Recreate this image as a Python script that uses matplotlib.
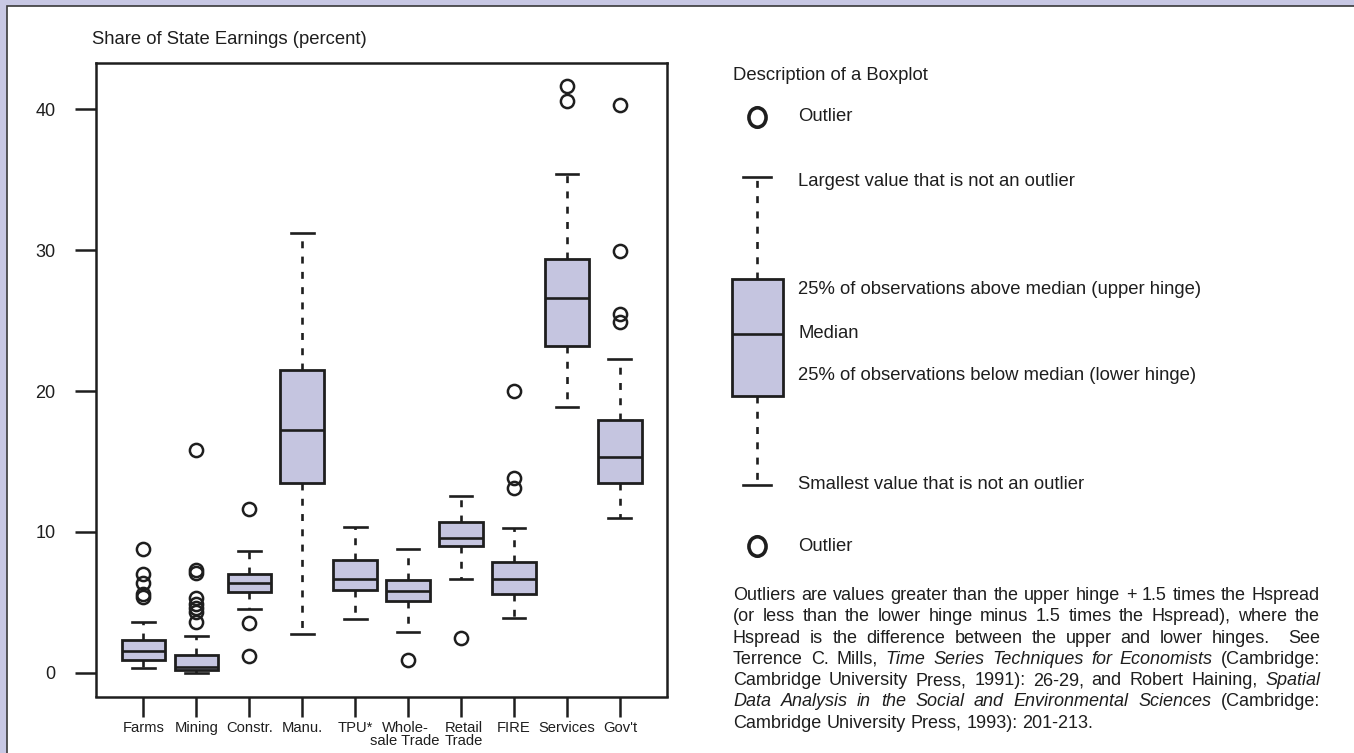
import matplotlib
matplotlib.use("Agg")
import matplotlib.pyplot as plt
import matplotlib.transforms as mtransforms
from matplotlib.path import Path
from matplotlib.patches import Rectangle

## ---- data (percent of state earnings) ----
categories = ["Farms", "Mining", "Constr.", "Manu.", "TPU*", "Whole-\nsale Trade",
              "Retail\nTrade", "FIRE", "Services", "Gov't"]
whislo = [0.31, 0.00, 4.50, 2.79, 3.79, 2.91, 6.69, 3.90, 18.87, 11.00]
q1     = [0.90, 0.20, 5.75, 13.48, 5.87, 5.08, 9.03, 5.56, 23.20, 13.48]
med    = [1.56, 0.43, 6.34, 17.20, 6.69, 5.79, 9.60, 6.69, 26.57, 15.30]
q3     = [2.32, 1.26, 6.98, 21.47, 8.04, 6.62, 10.67, 7.83, 29.39, 17.92]
whishi = [3.62, 2.60, 8.68, 31.23, 10.36, 8.77, 12.55, 10.28, 35.42, 22.25]
outliers = [
    [5.4, 5.6, 6.4, 7.0, 8.82],
    [3.6, 4.3, 4.6, 4.9, 5.3, 7.1, 7.3, 15.8],
    [1.21, 3.55, 11.6],
    [],
    [],
    [0.88],
    [2.48],
    [13.1, 13.8, 20.0],
    [40.57, 41.68],
    [24.9, 25.5, 29.95, 40.31],
]
yticks = [0, 10, 20, 30, 40]

## schematic box for the description panel (arbitrary 0-10 units)
legend_stats = dict(whislo=1.63, q1=3.57, med=4.91, q3=6.11, whishi=8.33, fliers=[0.30, 9.64])
legend_labels = [
    ("Outlier", 9.64),
    ("Largest value that is not an outlier", 8.22),
    ("25% of observations above median (upper hinge)", 5.87),
    ("Median", 4.93),
    ("25% of observations below median (lower hinge)", 4.00),
    ("Smallest value that is not an outlier", 1.65),
    ("Outlier", 0.30),
]

## paragraph lines, (text, italic) pieces, broken as in the original
para_lines = [
    [("Outliers are values greater than the upper hinge + 1.5 times the Hspread", False)],
    [("(or less than the lower hinge minus 1.5 times the Hspread), where the", False)],
    [("Hspread is the difference between the upper and lower hinges.  See", False)],
    [("Terrence C. Mills, ", False), ("Time Series Techniques for Economists", True), (" (Cambridge:", False)],
    [("Cambridge University Press, 1991): 26-29, and Robert Haining, ", False), ("Spatial", True)],
    [("Data Analysis in the Social and Environmental Sciences", True), (" (Cambridge:", False)],
    [("Cambridge University Press, 1993): 201-213.", False)],
]

ink = "#1e1e1e"
fill = "#c5c5e0"
lavender = "#c8c8e4"

plt.rcParams["font.family"] = ["Liberation Sans", "DejaVu Sans"]
plt.rcParams["lines.scale_dashes"] = False
plt.rcParams["text.color"] = ink

W, H = 1354, 753
fig = plt.figure(figsize=(W / 100, H / 100), dpi=100, facecolor=lavender)

def px_axes(x0, y0, x1, y1):
    ## axes from pixel box (top-left origin)
    return fig.add_axes([x0 / W, 1 - y1 / H, (x1 - x0) / W, (y1 - y0) / H])

def px_text(x, y, s, **kw):
    return fig.text(x / W, 1 - y / H, s, **kw)

## white panel with a thin frame
fig.add_artist(Rectangle((7 / W, -0.1), 1.2, 1.1 - 6 / H, transform=fig.transFigure,
                         facecolor="white", edgecolor="#3a3a3a", linewidth=1.2, zorder=-1))

############################ boxplot
ax = px_axes(95.7, 62.7, 667.5, 696.5)
positions = list(range(1, len(categories) + 1))
stats = []
for i in range(len(categories)):
    stats.append(dict(whislo=whislo[i], q1=q1[i], med=med[i], q3=q3[i],
                      whishi=whishi[i], fliers=outliers[i]))

boxkw = dict(patch_artist=True,
             boxprops=dict(facecolor=fill, edgecolor=ink, linewidth=2.0),
             medianprops=dict(color=ink, linewidth=1.9),
             whiskerprops=dict(color=ink, linewidth=1.9, linestyle=(0, (5, 6))),
             capprops=dict(color=ink, linewidth=1.9))

ax.bxp(stats, positions=positions, widths=0.82, capwidths=0.43, manage_ticks=False,
       flierprops=dict(marker="o", markerfacecolor="none", markeredgecolor=ink,
                       markersize=9.5, markeredgewidth=1.8),
       **boxkw)

ax.set_xlim(0.1, 10.9)
ax.set_ylim(-1.68, 43.3)
ax.set_xticks(positions, categories)
ax.set_yticks(yticks)
ax.tick_params(axis="x", length=14.4, width=1.8, pad=3, labelsize=10.6, colors=ink,
               labelcolor=ink)
ax.tick_params(axis="y", length=15, width=1.8, pad=14, labelsize=13, colors=ink,
               labelcolor=ink)
xlabs = ax.get_xticklabels()
for lab in xlabs:
    lab.set_linespacing(0.95)
## nudge the two stacked labels apart a little so "Trade Trade" does not touch
xlabs[5].set_transform(xlabs[5].get_transform() +
                       mtransforms.ScaledTranslation(-3 / 100, 0, fig.dpi_scale_trans))
xlabs[6].set_transform(xlabs[6].get_transform() +
                       mtransforms.ScaledTranslation(3 / 100, 0, fig.dpi_scale_trans))
for s in ax.spines.values():
    s.set_linewidth(1.8)
    s.set_color(ink)

px_text(92, 39, "Share of State Earnings (percent)", fontsize=13.3, va="center")

############################ description panel
## slightly tall "O" like the original key
circ = Path.unit_circle()
oval = Path(circ.vertices * [0.88, 1.0], circ.codes)

lax = px_axes(707, 100, 807, 560)
lax.set_xlim(0.5, 1.5)
lax.set_ylim(0, 10)
lax.axis("off")
lax.bxp([legend_stats], positions=[1], widths=0.51, capwidths=0.28, manage_ticks=False,
        flierprops=dict(marker=oval, markerfacecolor="none", markeredgecolor=ink,
                        markersize=14, markeredgewidth=2.6),
        **boxkw)
for txt, yv in legend_labels:
    lax.text(1.41, yv, txt, fontsize=13.3, va="center", ha="left", clip_on=False)

px_text(733, 75, "Description of a Boxplot", fontsize=13.3, va="center")

############################ justified paragraph
fs = 13
x_left, x_right = 733, 1320
base0, lead = 600, 21.3
renderer = fig.canvas.get_renderer()

def width_of(s, italic):
    t = fig.text(0, 0, s, fontsize=fs, style="italic" if italic else "normal")
    w = t.get_window_extent(renderer).width
    t.remove()
    return w

space_w = width_of("n n", False) - width_of("nn", False)

def tokens(line):
    out = []
    pending = 0
    for seg, it in line:
        parts = seg.split(" ")
        for k, p in enumerate(parts):
            if k > 0:
                pending += 1
            if p == "":
                continue
            out.append((p, it, pending if out else 0))
            pending = 0
    return out

for li, line in enumerate(para_lines):
    toks = tokens(line)
    widths = [width_of(w, it) for w, it, _ in toks]
    gaps = [n * space_w for _, _, n in toks[1:]]
    nspace = sum(n for _, _, n in toks[1:])
    extra = 0
    if li < len(para_lines) - 1 and nspace > 0:
        extra = (x_right - x_left - sum(widths) - sum(gaps)) / nspace
    x = x_left
    y = base0 + li * lead
    for k, (w, it, n) in enumerate(toks):
        if k > 0:
            x += n * (space_w + extra)
        px_text(x, y, w, fontsize=fs, style="italic" if it else "normal",
                ha="left", va="baseline")
        x += widths[k]

fig.savefig("out.png", dpi=100, facecolor=lavender)
